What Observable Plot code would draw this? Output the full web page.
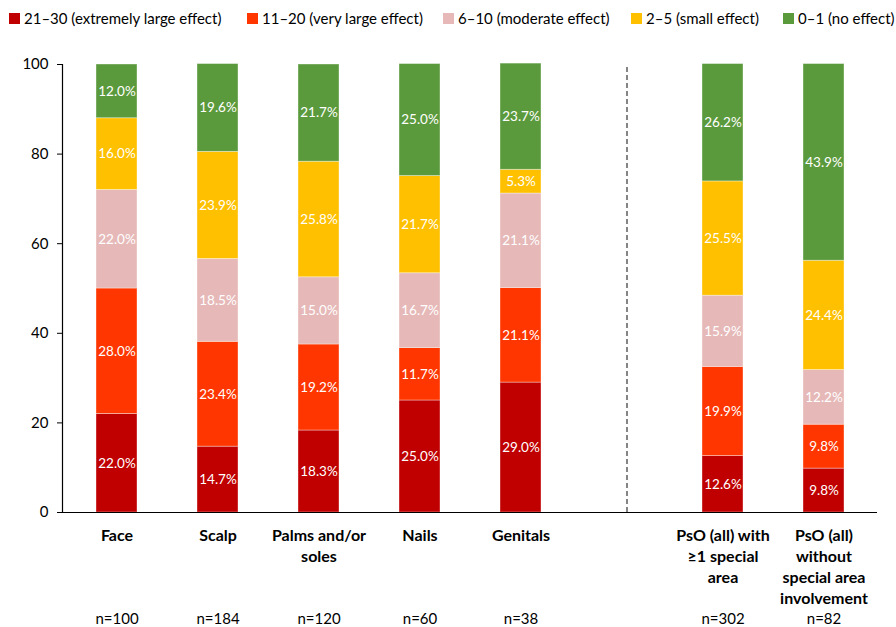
<!DOCTYPE html>
<html>
<head>
<meta charset="utf-8">
<script src="https://cdn.jsdelivr.net/npm/d3@7"></script>
<script src="https://cdn.jsdelivr.net/npm/@observablehq/plot@0.6"></script>
<style>
  body { margin: 0; background: #fff; font-family: Lato, "Noto Sans", sans-serif; }
  #legend { position: relative; height: 40px; font-size: 15px; color: #000; }
  .item { position: absolute; top: 9px; display: flex; align-items: center; white-space: nowrap; }
  .sw { width: 11px; height: 11px; margin-right: 4px; }
</style>
</head>
<body>
<div id="legend"></div>
<div id="chart"></div>
<script>
const categories = ["Face", "Scalp", "Palms and/or\nsoles", "Nails", "Genitals", "", "PsO (all) with\n≥1 special\narea", "PsO (all)\nwithout\nspecial area\ninvolvement"];
const barCategories = ["Face", "Scalp", "Palms and/or\nsoles", "Nails", "Genitals", "PsO (all) with\n≥1 special\narea", "PsO (all)\nwithout\nspecial area\ninvolvement"];
const nLabels = ["n=100", "n=184", "n=120", "n=60", "n=38", "n=302", "n=82"];
const severity = ["21–30 (extremely large effect)", "11–20 (very large effect)", "6–10 (moderate effect)", "2–5 (small effect)", "0–1 (no effect)"];
const colors = ["#C00000", "#FF3600", "#E6B9B8", "#FFC000", "#5B9A3C"];
const s21to30 = [22.0, 14.7, 18.3, 25.0, 29.0, 12.6, 9.8];
const s11to20 = [28.0, 23.4, 19.2, 11.7, 21.1, 19.9, 9.8];
const s6to10  = [22.0, 18.5, 15.0, 16.7, 21.1, 15.9, 12.2];
const s2to5   = [16.0, 23.9, 25.8, 21.7, 5.3, 25.5, 24.4];
const s0to1   = [12.0, 19.6, 21.7, 25.0, 23.7, 26.2, 43.9];
const yTicks = [0, 20, 40, 60, 80, 100];
const legendX = [9, 247, 443, 631, 783];

const series = [s21to30, s11to20, s6to10, s2to5, s0to1];
const rows = [];
barCategories.forEach((c, i) => {
  series.forEach((s, k) => rows.push({cat: c, sev: severity[k], value: s[i]}));
});
const nData = barCategories.map((c, i) => ({cat: c, n: nLabels[i]}));

// Legend
const leg = document.getElementById("legend");
severity.forEach((s, k) => {
  const it = document.createElement("div");
  it.className = "item";
  it.style.left = legendX[k] + "px";
  it.innerHTML = `<span class="sw" style="background:${colors[k]}"></span><span>${s}</span>`;
  leg.appendChild(it);
});

const chart = Plot.plot({
  width: 896,
  height: 587,
  marginTop: 24,
  marginBottom: 115,
  marginLeft: 62,
  marginRight: 19,
  style: {fontFamily: "Lato, 'Noto Sans', sans-serif", fontSize: "15px", color: "#000", background: "#fff"},
  x: {domain: categories, paddingInner: 0.597, paddingOuter: 0.3, label: null},
  y: {domain: [0, 100], label: null},
  color: {domain: severity, range: colors},
  marks: [
    Plot.barY(rows, {x: "cat", y: "value", fill: "sev", stroke: "#fff", strokeOpacity: 0.45, strokeWidth: 0.8}),
    Plot.text(rows, Plot.stackY({x: "cat", y: "value", text: d => d.value.toFixed(1) + "%", fill: "white", fontSize: 13.5})),
    Plot.ruleX([""], {y1: 0, y2: 100, dx: 5, stroke: "#444", strokeDasharray: "5,3", strokeWidth: 1.3}),
    Plot.ruleY([0], {stroke: "#000", strokeWidth: 1.2}),
    Plot.frame({anchor: "left", stroke: "#000", strokeWidth: 1.2}),
    Plot.axisY({ticks: yTicks, tickSize: 5, tickPadding: 9, fontSize: 15, stroke: "#000"}),
    Plot.axisX({tickSize: 0, tickPadding: 14, fontSize: 16, fontWeight: "bold", lineHeight: 1.31}),
    Plot.text(nData, {x: "cat", text: "n", frameAnchor: "bottom", dy: 111, fontSize: 15})
  ]
});
document.getElementById("chart").appendChild(chart);
</script>
</body>
</html>
